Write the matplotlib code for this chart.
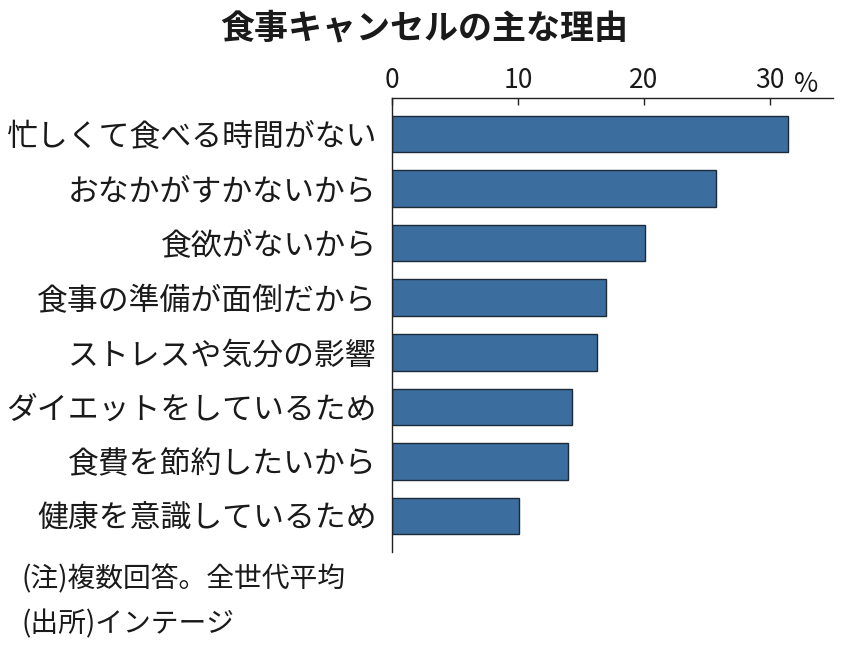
import matplotlib
matplotlib.use("Agg")
import matplotlib.pyplot as plt

plt.rcParams['font.family'] = ['Noto Sans CJK JP', 'DejaVu Sans']

# ── Data ──────────────────────────────────────────────────────────────────────
reasons = [
    '忙しくて食べる時間がない',
    'おなかがすかないから',
    '食欲がないから',
    '食事の準備が面倒だから',
    'ストレスや気分の影響',
    'ダイエットをしているため',
    '食費を節約したいから',
    '健康を意識しているため',
]
shares = [31.4, 25.7, 20.1, 17.0, 16.3, 14.3, 14.0, 10.1]
xticks = [0, 10, 20, 30]
xtick_labels = ['0', '10', '20', '30']

BAR_C  = '#3b6e9f'
EDGE_C = '#1c2a38'
TXT_C  = '#1a1a1a'

# ── Figure ────────────────────────────────────────────────────────────────────
fig = plt.figure(figsize=(8.5, 6.5), dpi=100)
ax = fig.add_axes([0.4612, 0.1508, 0.5188, 0.6984])

ypos = list(range(len(reasons)))
ax.barh(ypos, shares, height=0.67, color=BAR_C, edgecolor=EDGE_C, linewidth=1.0)

ax.set_ylim(len(reasons) - 1 + 0.66, -0.66)
ax.set_xlim(0, 35)

ax.set_yticks(ypos)
ax.set_yticklabels(reasons, fontsize=22.2, color=TXT_C)
ax.tick_params(axis='y', length=0, pad=11)

ax.xaxis.tick_top()
ax.set_xticks(xticks)
ax.set_xticklabels(xtick_labels, fontsize=19, color=TXT_C)
ax.tick_params(axis='x', direction='in', length=5, width=1, pad=3, color='#222222')
ax.text(32.9, 1.0, '%', transform=ax.get_xaxis_transform(), ha='center', va='bottom',
        fontsize=19, color=TXT_C)

for side in ['right', 'bottom']:
    ax.spines[side].set_visible(False)
for side in ['left', 'top']:
    ax.spines[side].set_linewidth(1.0)
    ax.spines[side].set_color('#222222')

# ── Texts ─────────────────────────────────────────────────────────────────────
fig.text(0.499, 1 - 28 / 650, '食事キャンセルの主な理由', ha='center', va='center',
         fontsize=24.5, fontweight='bold', color=TXT_C)
fig.text(0.025, 1 - 579 / 650, '(注)複数回答。全世代平均', ha='left', va='center',
         fontsize=20, color=TXT_C)
fig.text(0.025, 1 - 624 / 650, '(出所)インテージ', ha='left', va='center',
         fontsize=20, color=TXT_C)

fig.savefig('out.png', dpi=100, facecolor='white')
